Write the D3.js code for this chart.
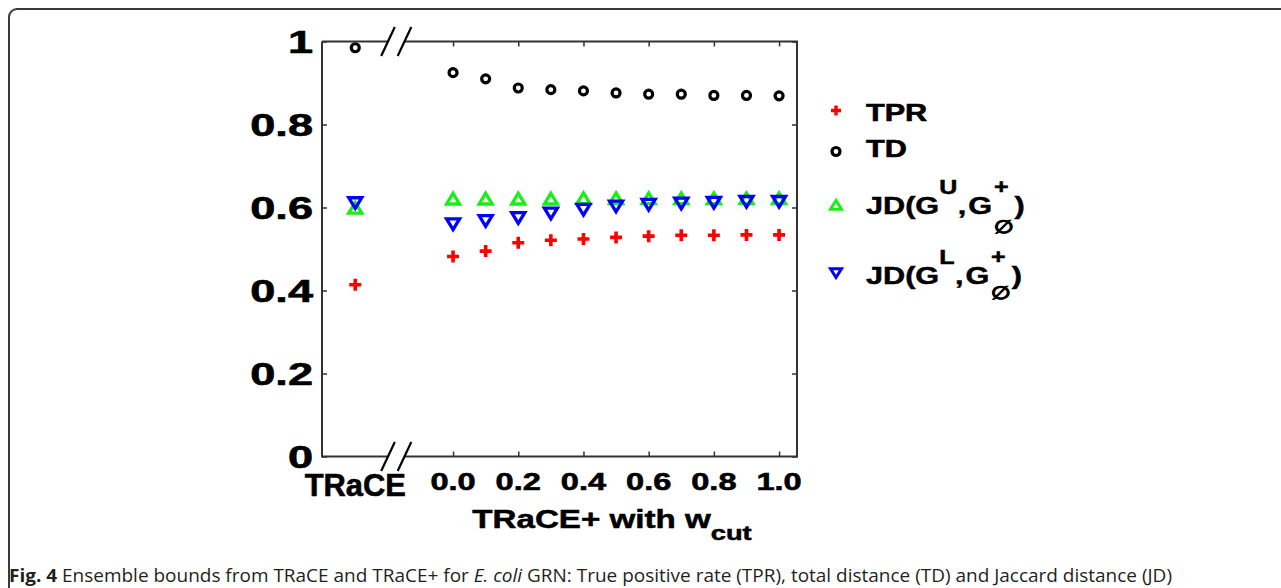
<!DOCTYPE html>
<html>
<head>
<meta charset="utf-8">
<script src="https://cdn.jsdelivr.net/npm/d3@7"></script>
<style>
  html, body { margin: 0; padding: 0; background: #fff; }
  svg { display: block; }
</style>
</head>
<body>
<script>
// ---------------- data ----------------
const wcut = [0.0, 0.1, 0.2, 0.3, 0.4, 0.5, 0.6, 0.7, 0.8, 0.9, 1.0];
const tprPlus = [0.482, 0.495, 0.515, 0.521, 0.524, 0.528, 0.531, 0.533, 0.533, 0.534, 0.534];
const tdPlus  = [0.925, 0.910, 0.888, 0.884, 0.881, 0.876, 0.873, 0.873, 0.870, 0.870, 0.869];
const jdUPlus = [0.621, 0.621, 0.621, 0.621, 0.622, 0.622, 0.622, 0.622, 0.622, 0.622, 0.622];
const jdLPlus = [0.560, 0.568, 0.575, 0.586, 0.595, 0.603, 0.607, 0.610, 0.612, 0.614, 0.614];
const traceValues = { tpr: 0.414, td: 0.985, jdU: 0.599, jdL: 0.611 };
const yTicks = [0, 0.2, 0.4, 0.6, 0.8, 1];
const yTickLabels = ["0", "0.2", "0.4", "0.6", "0.8", "1"];
const xTicks = [0.0, 0.2, 0.4, 0.6, 0.8, 1.0];
const xTickLabels = ["0.0", "0.2", "0.4", "0.6", "0.8", "1.0"];
const traceLabel = "TRaCE";
const seriesNames = ["TPR", "TD", "JD(G^U,G^+_∅)", "JD(G^L,G^+_∅)"];
const captionParts = [
  { t: "Fig. 4", s: "bold" },
  { t: " Ensemble bounds from TRaCE and TRaCE+ for ", s: "normal" },
  { t: "E. coli", s: "italic" },
  { t: " GRN: True positive rate (TPR), total distance (TD) and Jaccard distance (JD)", s: "normal" }
];

// ---------------- layout ----------------
const W = 1281, H = 588;
const L = 322, R = 797, T = 41.5, B = 456.5;
const TRACE_POS = -0.30;   // x position of the TRaCE column on the shared scale
const axisColor = "#333";
const font = "'Liberation Sans', Arial, sans-serif";

const svg = d3.select("body").append("svg").attr("width", W).attr("height", H);

// outer frame
svg.append("path")
  .attr("d", "M9,620V17A8,8 0 0 1 17,9H1300")
  .attr("fill", "none").attr("stroke", "#3a3a3a").attr("stroke-width", 2);

const x = d3.scaleLinear().domain([-0.402, 1.055]).range([L, R]);
const y = d3.scaleLinear().domain([0, 1]).range([B, T]);

function stext(parent, px, py, txt, size, sx, anchor) {
  return parent.append("text")
    .attr("transform", `translate(${px},${py}) scale(${sx},1)`)
    .attr("text-anchor", anchor || "middle")
    .attr("font-family", font).attr("font-weight", "bold")
    .attr("font-size", size).attr("fill", "#000")
    .attr("stroke", "#000").attr("stroke-width", 0.6)
    .text(txt);
}

// ---------------- axes (ticks) ----------------
const gL = svg.append("g").attr("transform", `translate(${L},0)`)
  .call(d3.axisLeft(y).tickValues(yTicks).tickSize(-5).tickFormat(""));
const gR = svg.append("g").attr("transform", `translate(${R},0)`)
  .call(d3.axisRight(y).tickValues(yTicks).tickSize(-5).tickFormat(""));
const gT = svg.append("g").attr("transform", `translate(0,${T})`)
  .call(d3.axisTop(x).tickValues(xTicks).tickSize(-5).tickFormat(""));
const gB = svg.append("g").attr("transform", `translate(0,${B})`)
  .call(d3.axisBottom(x).tickValues(xTicks).tickSize(-5).tickFormat(""));
[gL, gR, gT, gB].forEach(g => {
  g.select(".domain").remove();
  g.selectAll(".tick line").attr("stroke", axisColor).attr("stroke-width", 1.5);
});

// box with axis break
const gapA = 388, gapB = 404.5;
const box = svg.append("g").attr("stroke", axisColor).attr("stroke-width", 2).attr("fill", "none");
box.append("path").attr("d", `M${L},${T}V${B}H${gapA}M${gapB},${B}H${R}V${T}H${gapB}M${gapA},${T}H${L}`);
[T, B].forEach(yy => {
  [gapA, gapB].forEach(xx => {
    svg.append("line")
      .attr("x1", xx - 6.8).attr("y1", yy + 14.5)
      .attr("x2", xx + 6.8).attr("y2", yy - 14.5)
      .attr("stroke", "#000").attr("stroke-width", 2.2);
  });
});

// tick labels
yTicks.forEach((v, i) => {
  stext(svg, 313, y(v) + 11, yTickLabels[i], 30.5, 1.48, "end");
});
xTicks.forEach((v, i) => {
  stext(svg, x(v), 489.5, xTickLabels[i], 24.5, 1.33, "middle");
});
stext(svg, x(TRACE_POS), 496, traceLabel, 31.5, 0.98, "middle");

// x axis label
const xl = svg.append("text")
  .attr("transform", `translate(612,528) scale(1.3,1)`)
  .attr("text-anchor", "middle")
  .attr("font-family", font).attr("font-weight", "bold").attr("font-size", 25.5)
  .attr("stroke", "#000").attr("stroke-width", 0.5);
xl.append("tspan").text("TRaCE+ with w");
xl.append("tspan").attr("font-size", 21).attr("dy", 12).text("cut");

// ---------------- markers ----------------
const shapes = {
  plus: "M-6,0H6M0,-6V6",
  up: "M0,-5.5L6.5,5.2H-6.5Z",
  down: "M0,5.5L6.5,-5.2H-6.5Z"
};
const colors = { tpr: "#ff0000", td: "#000000", jdU: "#19ee19", jdL: "#0000ff" };

function drawPath(g, d, px, py, color, sw) {
  g.append("path").attr("d", d).attr("transform", `translate(${px},${py})`)
    .attr("fill", "none").attr("stroke", color).attr("stroke-width", sw)
    .attr("stroke-linejoin", "miter");
}
function drawCircle(g, px, py) {
  g.append("circle").attr("cx", px).attr("cy", py).attr("r", 4)
    .attr("fill", "none").attr("stroke", "#000").attr("stroke-width", 3.2);
}

const marks = svg.append("g");
// TPR
drawPath(marks, shapes.plus, x(TRACE_POS), y(traceValues.tpr), colors.tpr, 3.6);
wcut.forEach((w, i) => drawPath(marks, shapes.plus, x(w), y(tprPlus[i]), colors.tpr, 3.6));
// TD
drawCircle(marks, x(TRACE_POS), y(traceValues.td));
wcut.forEach((w, i) => drawCircle(marks, x(w), y(tdPlus[i])));
// JD upper
drawPath(marks, shapes.up, x(TRACE_POS), y(traceValues.jdU), colors.jdU, 3.3);
wcut.forEach((w, i) => drawPath(marks, shapes.up, x(w), y(jdUPlus[i]), colors.jdU, 3.3));
// JD lower
drawPath(marks, shapes.down, x(TRACE_POS), y(traceValues.jdL), colors.jdL, 3.3);
wcut.forEach((w, i) => drawPath(marks, shapes.down, x(w), y(jdLPlus[i]), colors.jdL, 3.3));

// ---------------- legend ----------------
const lg = svg.append("g");
const mx = 836, tx = 866, sx = 1.25;
drawPath(lg, "M-5,0H5M0,-5V5", mx, 110.5, colors.tpr, 3.4);
drawCircle(lg, mx, 151.5);
drawPath(lg, "M0,-4.5L5.5,4.3H-5.5Z", mx, 205, colors.jdU, 3);
drawPath(lg, "M0,4.5L5.5,-4.3H-5.5Z", mx, 273, colors.jdL, 3);

stext(lg, tx, 121, seriesNames[0], 24.5, sx, "start");
stext(lg, tx, 156.5, seriesNames[1], 24.5, sx, "start");

function jdEntry(baseY, supLetter, subDy) {
  const g = lg.append("g").attr("transform", `translate(${tx},${baseY}) scale(${sx},1)`)
    .attr("font-family", font).attr("font-weight", "bold").attr("fill", "#000")
    .attr("stroke", "#000").attr("stroke-width", 0.5);
  let cx = 0;
  function piece(t, size, dy) {
    const el = g.append("text").attr("x", cx).attr("y", dy).attr("font-size", size).text(t);
    return el.node().getComputedTextLength();
  }
  cx += piece("JD(G", 24.5, 0);
  cx += piece(supLetter, 20, -20) + 0.5;
  cx += piece(",", 24.5, 0) + 1.5;
  cx += piece("G", 24.5, 0) + 1.5;
  const w1 = piece("+", 20, -20);
  const w2 = piece("∅", 18, subDy);
  cx += Math.max(w1, w2) + 1.5;
  piece(")", 24.5, 0);
}
jdEntry(214, "U", 19);
jdEntry(284, "L", 15);

// ---------------- caption ----------------
const cap = svg.append("text").attr("x", 9).attr("y", 582)
  .attr("font-family", "'Open Sans', 'Noto Sans', sans-serif")
  .attr("font-size", 18.5).attr("fill", "#231f20")
  .attr("textLength", 1163).attr("lengthAdjust", "spacingAndGlyphs");
captionParts.forEach(p => {
  const ts = cap.append("tspan").text(p.t);
  if (p.s === "bold") ts.attr("font-weight", "bold");
  if (p.s === "italic") ts.attr("font-style", "italic");
});
</script>
</body>
</html>
